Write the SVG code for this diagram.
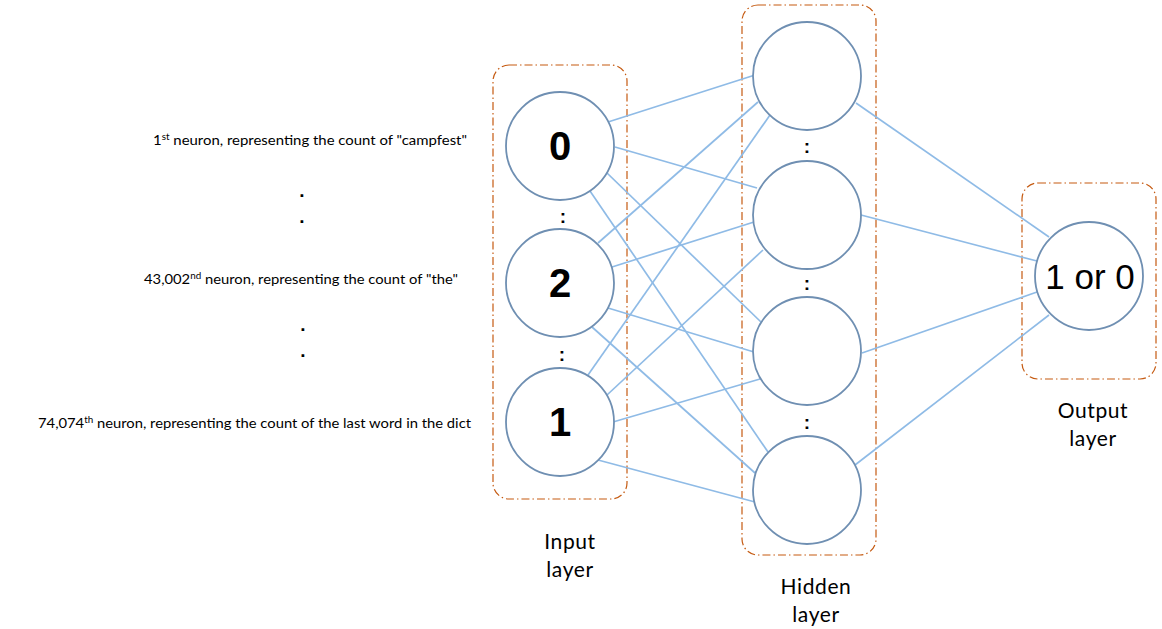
<svg xmlns="http://www.w3.org/2000/svg" width="1162" height="629" viewBox="0 0 1162 629">
<style>
.box{fill:none;stroke:#c55a11;stroke-width:1.2;stroke-dasharray:8 3 1.5 3}
.node{fill:#fff;stroke:#6f8fb2;stroke-width:1.8}
.edge{stroke:#8fbbe6;stroke-width:1.7;fill:none}
.lbl{font-family:Lato,"Open Sans",sans-serif;font-size:13.5px;fill:#000}
.sup{font-size:9px}
.layer{font-family:Lato,"Open Sans",sans-serif;font-size:21px;letter-spacing:0.6px;fill:#000;text-anchor:middle}
.num{font-family:"Liberation Sans",Arial,sans-serif;font-size:40px;font-weight:bold;fill:#000;text-anchor:middle}
.out{font-family:"Liberation Sans",Arial,sans-serif;font-size:35px;fill:#000;text-anchor:middle}
.dots{font-family:"Liberation Sans",Arial,sans-serif;font-size:19px;font-weight:bold;fill:#000;text-anchor:middle}
</style>
<rect width="1162" height="629" fill="#fff"/>
<g id="layer-boxes">
<rect class="box" x="493" y="65" width="134" height="434" rx="16"/>
<rect class="box" x="742" y="5" width="134" height="550" rx="16"/>
<rect class="box" x="1022" y="183" width="134" height="196" rx="16"/>
</g>
<g id="connectors">
<line class="edge" x1="608" y1="122" x2="755" y2="75"/>
<line class="edge" x1="615" y1="147" x2="757" y2="188"/>
<line class="edge" x1="607" y1="173" x2="761" y2="322"/>
<line class="edge" x1="590" y1="191" x2="768" y2="452"/>
<line class="edge" x1="598" y1="243" x2="758" y2="102"/>
<line class="edge" x1="612" y1="267" x2="754" y2="222"/>
<line class="edge" x1="608" y1="308" x2="754" y2="352"/>
<line class="edge" x1="592" y1="327" x2="755" y2="473"/>
<line class="edge" x1="588" y1="375" x2="770" y2="115"/>
<line class="edge" x1="607" y1="395" x2="763" y2="250"/>
<line class="edge" x1="613" y1="422" x2="760" y2="379"/>
<line class="edge" x1="598" y1="460" x2="755" y2="502"/>
<line class="edge" x1="856" y1="103" x2="1049" y2="237"/>
<line class="edge" x1="861" y1="215" x2="1037" y2="261"/>
<line class="edge" x1="862" y1="353" x2="1037" y2="292"/>
<line class="edge" x1="855" y1="465" x2="1049" y2="315"/>
</g>
<g id="input-0"><circle class="node" cx="560" cy="146" r="54"/><text class="num" x="560" y="160">0</text></g>
<g id="input-2"><circle class="node" cx="560" cy="283" r="54"/><text class="num" x="560" y="297">2</text></g>
<g id="input-1"><circle class="node" cx="560" cy="422" r="54"/><text class="num" x="560" y="436">1</text></g>
<g id="hidden-1"><circle class="node" cx="807" cy="76" r="54"/></g>
<g id="hidden-2"><circle class="node" cx="807" cy="215" r="54"/></g>
<g id="hidden-3"><circle class="node" cx="807" cy="351" r="54"/></g>
<g id="hidden-4"><circle class="node" cx="807" cy="490" r="54"/></g>
<g id="output"><circle class="node" cx="1089" cy="276" r="54"/><text class="out" x="1090" y="289">1 or 0</text></g>
<g id="ellipses">
<text class="dots" x="563" y="223">:</text>
<text class="dots" x="562" y="361">:</text>
<text class="dots" x="807" y="153">:</text>
<text class="dots" x="807" y="290">:</text>
<text class="dots" x="807" y="429">:</text>
<text class="dots" x="302" y="197">.</text>
<text class="dots" x="302" y="223">.</text>
<text class="dots" x="303" y="331">.</text>
<text class="dots" x="303" y="357">.</text>
</g>
<g id="neuron-labels">
<text class="lbl" x="153" y="145" textLength="314" lengthAdjust="spacingAndGlyphs">1<tspan class="sup" dy="-5">st</tspan><tspan dy="5"> neuron, representing the count of "campfest"</tspan></text>
<text class="lbl" x="144" y="284" textLength="314" lengthAdjust="spacingAndGlyphs">43,002<tspan class="sup" dy="-5">nd</tspan><tspan dy="5"> neuron, representing the count of "the"</tspan></text>
<text class="lbl" x="38" y="428" textLength="433" lengthAdjust="spacingAndGlyphs">74,074<tspan class="sup" dy="-5">th</tspan><tspan dy="5"> neuron, representing the count of the last word in the dict</tspan></text>
</g>
<g id="layer-labels">
<text class="layer" x="570" y="549">Input</text>
<text class="layer" x="570" y="577">layer</text>
<text class="layer" x="816" y="594">Hidden</text>
<text class="layer" x="816" y="622">layer</text>
<text class="layer" x="1093" y="418">Output</text>
<text class="layer" x="1093" y="446">layer</text>
</g>
</svg>
